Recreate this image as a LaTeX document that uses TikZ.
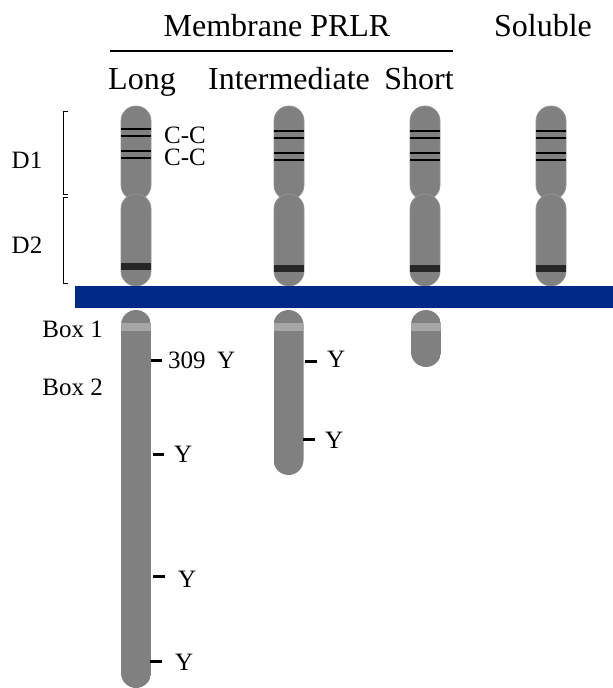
\documentclass[tikz,border=0pt]{standalone}
\usepackage{fontspec}
\setmainfont{Liberation Serif}
\definecolor{chromo}{RGB}{128,128,128}
\definecolor{lightband}{RGB}{166,166,166}
\definecolor{darkband}{RGB}{38,38,38}
\definecolor{membrane}{RGB}{0,41,135}
\begin{document}
\begin{tikzpicture}[x=1pt,y=-1pt,
  hdr/.style={inner sep=0pt, anchor=base, font=\fontsize{32}{32}\selectfont},
  lbl/.style={inner sep=0pt, font=\fontsize{25}{25}\selectfont},
  seg/.style={fill=chromo, draw=chromo!85!white, line width=0.8pt, rounded corners=15pt},
  stripe/.style={line width=2pt, black},
  tick/.style={line width=3pt, black},
  brk/.style={line width=1pt, black}
]
\useasboundingbox (0,0) rectangle (613,688);

% headers
\node[hdr] (memb) at (277,36) {Membrane PRLR};
\node[hdr] (sol) at (543,36) {Soluble};
\node[hdr] (long) at (142,89) {Long};
\node[hdr] (inter) at (289,89) {Intermediate};
\node[hdr] (short) at (419,89) {Short};
\coordinate (hl) at (110,51);
\coordinate (hr) at (453,51);
\draw[line width=1.2pt] (hl) -- (hr);

% extracellular segments
\foreach \cx/\dy [count=\i] in {136/0,289/2,425/2,551/2}{
  \draw[seg] (\cx-15,106) rectangle (\cx+15,200);
  \draw[seg] (\cx-15,194) rectangle (\cx+15,286);
  \foreach \sy in {129,136,151,158}
    \draw[stripe] (\cx-15,\sy+\dy) -- (\cx+15,\sy+\dy);
  \fill[darkband] (\cx-15,263+\dy) rectangle (\cx+15,270+\dy);
}

% membrane
\fill[membrane] (75,286) rectangle (613,308);

% intracellular segments
\foreach \cx/\by in {136/688,288.5/475,426/367}{
  \begin{scope}
    \clip[rounded corners=15pt] (\cx-15,310) rectangle (\cx+15,\by);
    \fill[chromo] (\cx-15,310) rectangle (\cx+15,\by);
    \fill[lightband] (\cx-15,323) rectangle (\cx+15,331);
  \end{scope}
}

% brackets
\draw[brk] (68,111) -- (63,111) -- (63,194) -- (68,194);
\draw[brk] (68,197) -- (63,197) -- (63,283) -- (68,283);

% left labels
\node[lbl, anchor=base] (d1) at (27,168) {D1};
\node[lbl, anchor=base] (d2) at (27,253) {D2};
\node[lbl, anchor=base east] (box1) at (103,337) {Box 1};
\node[lbl, anchor=base east] (box2) at (103,395) {Box 2};

% C-C labels (two lines, 22pt apart)
\node[lbl, font=\fontsize{25}{22}\selectfont, align=left, anchor=base west] (cc) at (164,165) {C-C\\C-C};

% tyrosines, long
\draw[tick] (151,360) -- (162,360);
\node[lbl, anchor=base west] (y309) at (168,368) {309};
\node[lbl, anchor=base west] (yl1) at (217,368) {Y};
\draw[tick] (153,454) -- (164,454);
\node[lbl, anchor=base west] (yl2) at (174,462) {Y};
\draw[tick] (153,576) -- (165,576);
\node[lbl, anchor=base west] (yl3) at (178,587) {Y};
\draw[tick] (150,661) -- (162,661);
\node[lbl, anchor=base west] (yl4) at (175,670) {Y};

% tyrosines, intermediate
\draw[tick] (305,361) -- (317,361);
\node[lbl, anchor=base west] (yi1) at (327,367) {Y};
\draw[tick] (303,439) -- (315,439);
\node[lbl, anchor=base west] (yi2) at (325,448) {Y};
\end{tikzpicture}
\end{document}
